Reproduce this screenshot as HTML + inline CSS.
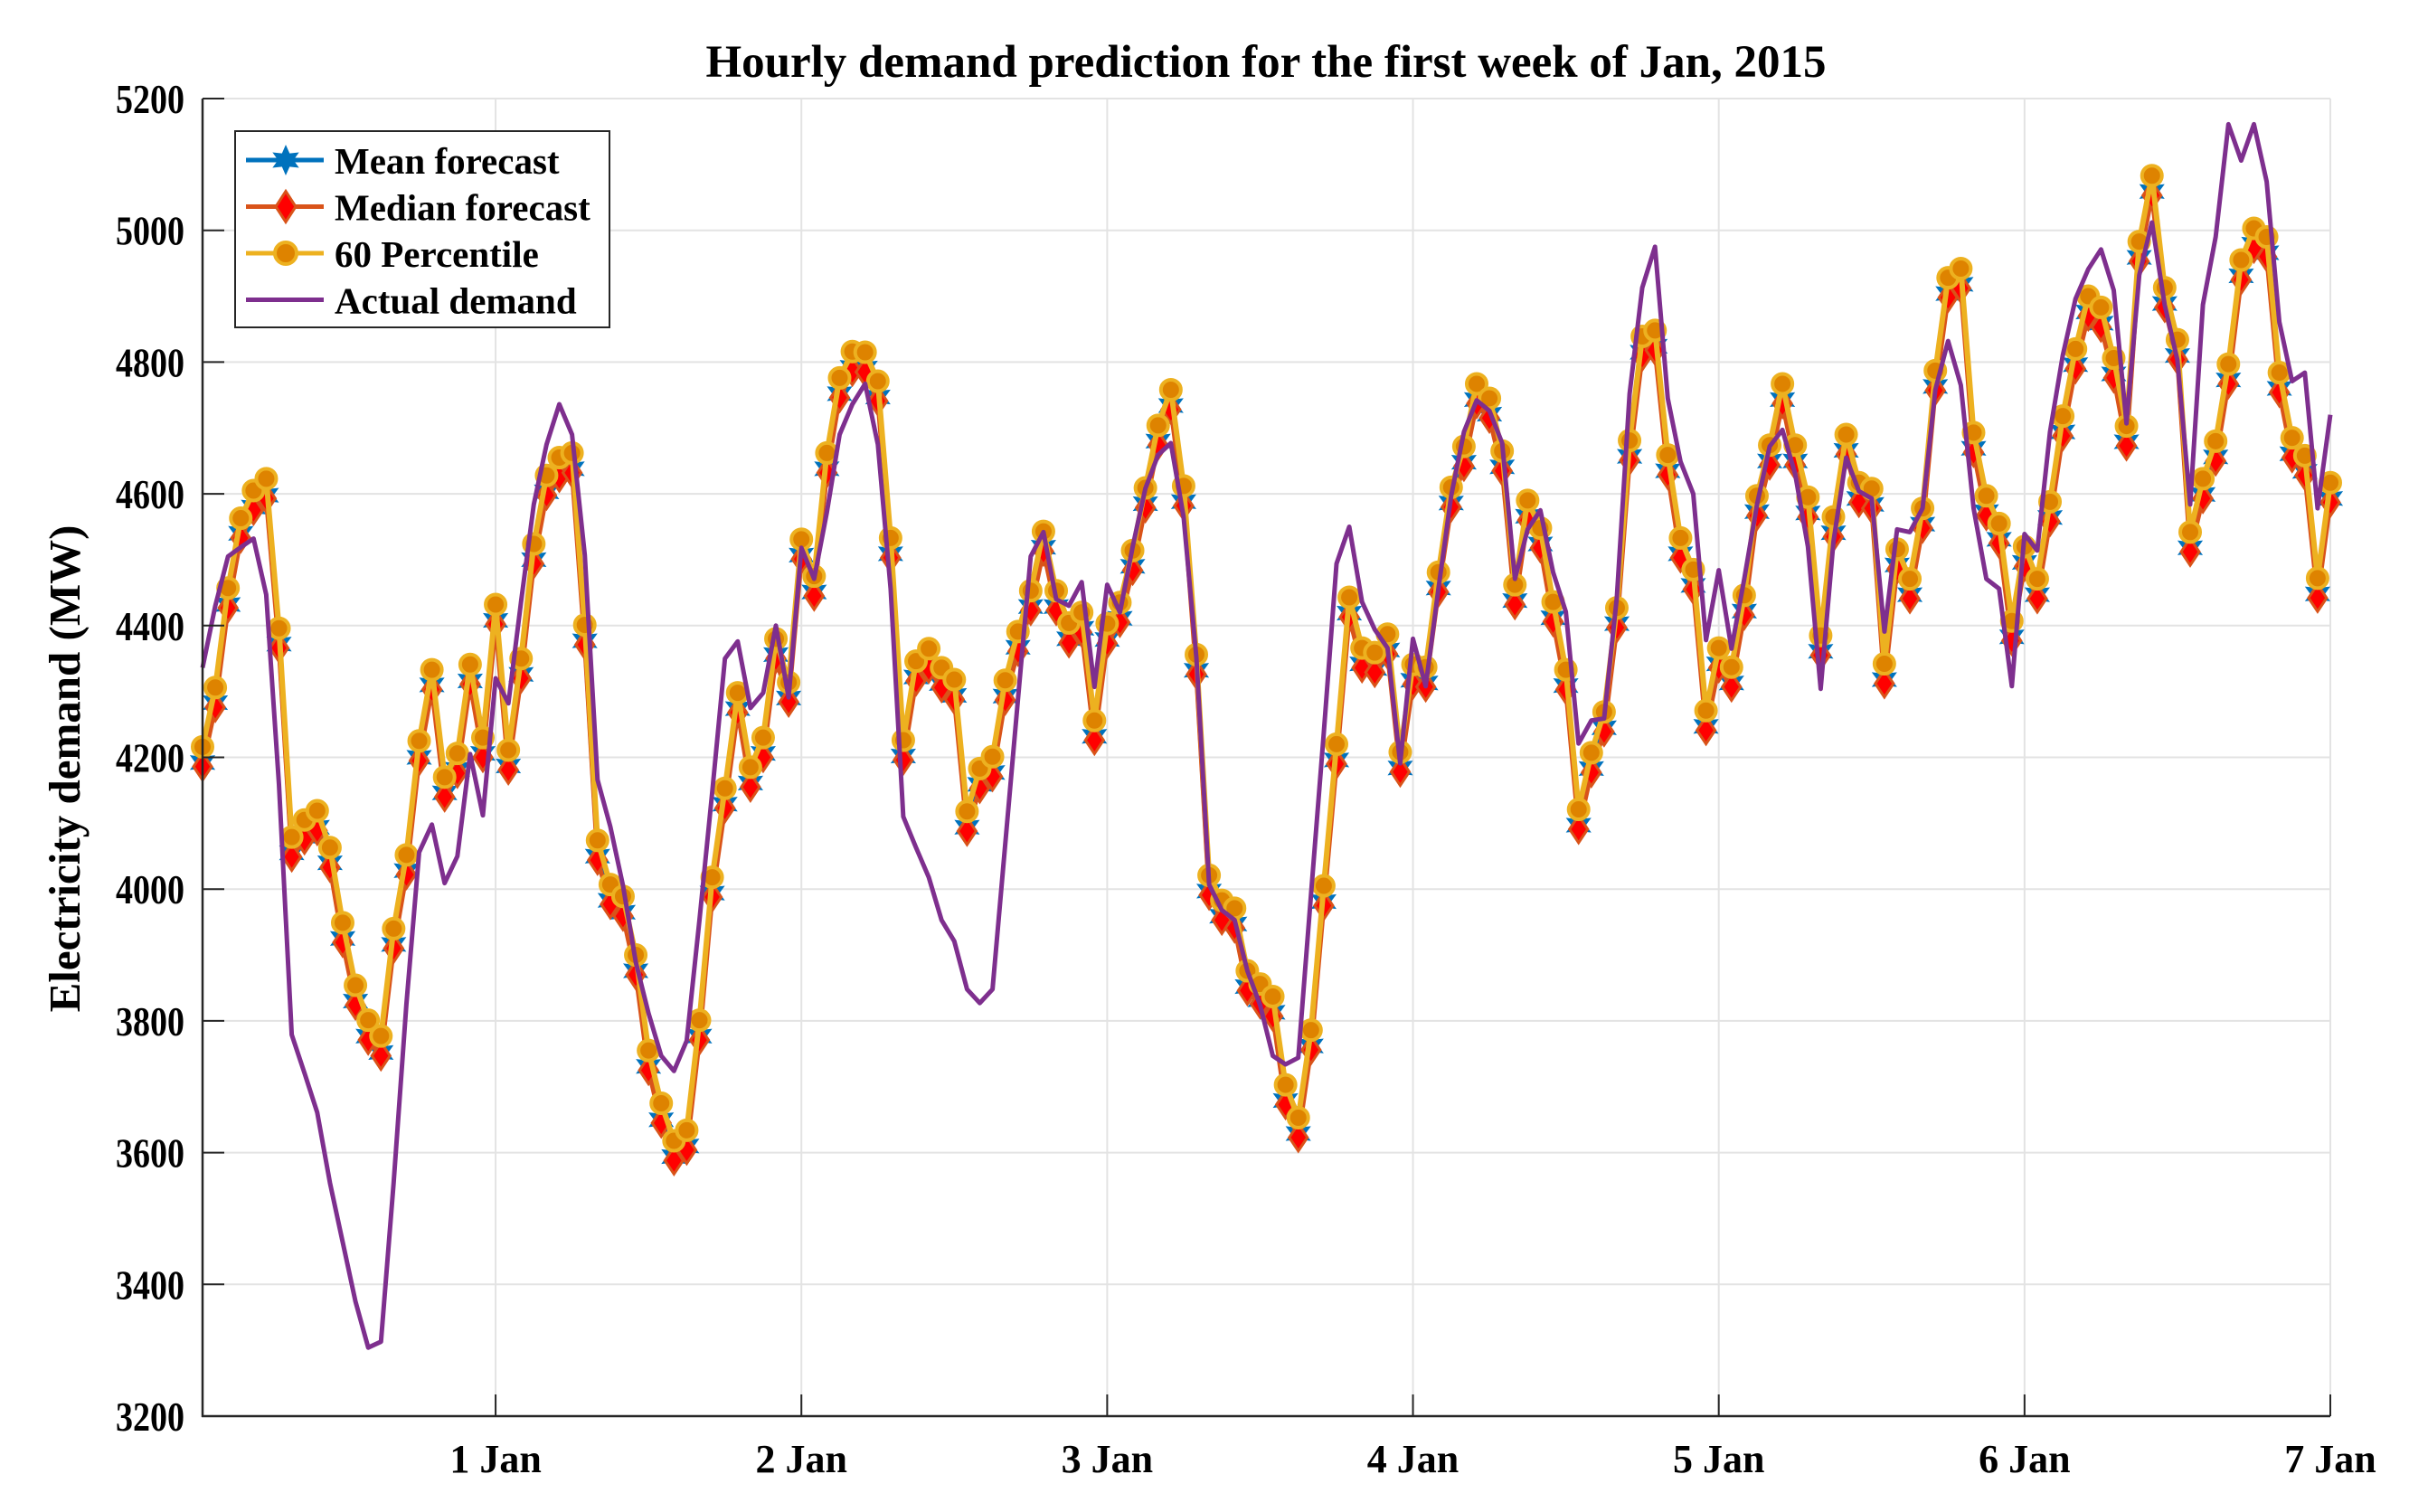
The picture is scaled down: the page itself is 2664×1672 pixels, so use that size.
<!DOCTYPE html>
<html><head><meta charset="utf-8"><style>
html,body{margin:0;padding:0;background:#fff}
svg{display:block}
text{font-family:"Liberation Serif",serif;font-weight:bold;fill:#000}
</style></head><body>
<svg id="chart" width="2664" height="1672" viewBox="0 0 2664 1672" xmlns="http://www.w3.org/2000/svg">
<rect width="2664" height="1672" fill="#fff"/>
<text x="1400" y="85" font-size="51" text-anchor="middle">Hourly demand prediction for the first week of Jan, 2015</text>
<text transform="translate(88,850) rotate(-90)" font-size="49" text-anchor="middle">Electricity demand (MW)</text>
<g id="grid"></g>
<g id="series"></g>
<g id="axes"></g>
<g id="legend"></g>
</svg>
<script>
const yTicks = [3200,3400,3600,3800,4000,4200,4400,4600,4800,5000,5200];
const xTickHours = [24,48,72,96,120,144,168];
const xTickLabels = ["1 Jan","2 Jan","3 Jan","4 Jan","5 Jan","6 Jan","7 Jan"];
const p60 = [4216,4306,4457,4563,4605,4623,4396,4079,4105,4119,4063,3949,3854,3801,3777,3940,4052,4225,4333,4170,4206,4341,4230,4432,
4211,4350,4524,4628,4655,4662,4401,4074,4007,3989,3900,3755,3675,3618,3634,3801,4018,4153,4298,4185,4230,4380,4314,4531,
4475,4662,4776,4816,4815,4771,4533,4226,4346,4365,4336,4318,4118,4183,4201,4317,4391,4453,4543,4453,4404,4420,4256,4403,
4435,4514,4609,4704,4758,4612,4356,4021,3983,3971,3876,3856,3837,3703,3653,3786,4005,4220,4443,4366,4359,4387,4208,4341,
4337,4481,4610,4672,4767,4745,4665,4462,4590,4548,4436,4333,4121,4207,4269,4427,4681,4839,4848,4659,4533,4485,4271,4366,
4337,4446,4597,4674,4767,4674,4595,4385,4565,4690,4617,4608,4342,4516,4471,4578,4787,4928,4942,4693,4597,4555,4407,4520,
4471,4588,4718,4820,4900,4883,4806,4703,4983,5083,4913,4834,4542,4623,4680,4797,4955,5003,4990,4784,4685,4658,4472,4617];
const median = [4186,4276,4427,4533,4575,4593,4366,4049,4075,4089,4033,3919,3824,3771,3747,3910,4022,4195,4303,4140,4176,4311,4200,4402,
4181,4320,4494,4598,4625,4632,4371,4044,3977,3959,3870,3725,3645,3588,3604,3771,3988,4123,4268,4155,4200,4350,4284,4501,
4445,4632,4746,4786,4785,4741,4503,4196,4316,4335,4306,4288,4088,4153,4171,4287,4361,4423,4513,4423,4374,4390,4226,4373,
4405,4484,4579,4674,4728,4582,4326,3991,3953,3941,3846,3826,3807,3673,3623,3756,3975,4190,4413,4336,4329,4357,4178,4311,
4307,4451,4580,4642,4737,4715,4635,4432,4560,4518,4406,4303,4091,4177,4239,4397,4651,4809,4818,4629,4503,4455,4241,4336,
4307,4416,4567,4644,4737,4644,4565,4355,4535,4660,4587,4578,4312,4486,4441,4548,4757,4898,4912,4663,4567,4525,4377,4490,
4441,4558,4688,4790,4870,4853,4776,4673,4953,5053,4883,4804,4512,4593,4650,4767,4925,4973,4960,4754,4655,4628,4442,4587];
const mean = [4192,4283,4432,4540,4580,4598,4372,4055,4080,4094,4040,3925,3830,3777,3752,3916,4028,4200,4310,4146,4182,4316,4206,4408,
4187,4326,4500,4603,4631,4638,4377,4050,3983,3965,3876,3731,3650,3594,3610,3777,3994,4129,4274,4161,4206,4356,4290,4507,
4451,4638,4752,4792,4791,4747,4509,4202,4322,4341,4312,4294,4094,4159,4177,4293,4367,4429,4519,4429,4380,4396,4232,4379,
4411,4490,4585,4680,4734,4588,4332,3997,3959,3947,3852,3832,3813,3679,3629,3762,3981,4196,4419,4342,4335,4363,4184,4317,
4313,4457,4586,4648,4743,4721,4641,4438,4566,4524,4412,4309,4097,4183,4245,4403,4657,4815,4824,4635,4509,4461,4247,4342,
4313,4422,4573,4650,4743,4650,4571,4361,4541,4666,4593,4584,4318,4492,4447,4554,4763,4904,4918,4669,4573,4531,4383,4496,
4447,4564,4694,4796,4876,4859,4782,4679,4959,5059,4889,4810,4518,4599,4656,4773,4931,4979,4966,4760,4661,4634,4448,4593];
const actual = [4336,4430,4505,4519,4532,4447,4159,3779,3721,3661,3554,3464,3374,3304,3313,3554,3825,4056,4098,4009,4050,4205,4112,4320,
4282,4436,4584,4675,4736,4690,4507,4166,4095,4005,3889,3812,3747,3724,3770,3953,4147,4350,4376,4275,4298,4400,4291,4518,
4471,4572,4690,4736,4767,4675,4456,4110,4063,4018,3953,3921,3848,3827,3848,4069,4288,4505,4542,4440,4430,4466,4307,4462,
4420,4520,4608,4659,4677,4565,4352,4007,3968,3953,3876,3824,3747,3734,3744,3992,4237,4494,4550,4436,4394,4366,4191,4380,
4308,4456,4597,4694,4742,4726,4677,4471,4546,4575,4481,4421,4221,4256,4259,4443,4752,4913,4975,4745,4649,4600,4378,4484,
4365,4471,4584,4672,4697,4630,4520,4304,4527,4655,4604,4593,4391,4546,4542,4578,4758,4832,4765,4578,4471,4456,4308,4539,
4514,4694,4810,4896,4941,4971,4909,4707,4932,5012,4887,4803,4584,4887,4990,5161,5106,5161,5074,4861,4771,4784,4578,4720];

const L=224,R=2577,T=109,B=1566;
const xMin=1,xMax=168,yMin=3200,yMax=5200;
function xs(h){return L+(h-xMin)/(xMax-xMin)*(R-L);}
function ys(v){return B-(v-yMin)/(yMax-yMin)*(B-T);}
const NS="http://www.w3.org/2000/svg";
function mk(tag,attrs,parent){const e=document.createElementNS(NS,tag);for(const k in attrs)e.setAttribute(k,attrs[k]);parent.appendChild(e);return e;}
const grid=document.getElementById('grid'),axes=document.getElementById('axes'),series=document.getElementById('series'),legend=document.getElementById('legend');

yTicks.forEach(v=>{
  const g=mk('line',{x1:L,x2:R,y1:ys(v),y2:ys(v),stroke:'#e3e3e3','stroke-width':2},grid);
  
  
  const tk=mk('line',{x1:L,x2:L+24,y1:ys(v),y2:ys(v),stroke:'#262626','stroke-width':2},axes);
  
  
  const t=mk('text',{x:0,y:0,'font-size':38,'text-anchor':'end',fill:'#262626',transform:'translate('+(L-20)+','+(ys(v)+16)+') scale(1,1.2)'},axes);
  t.textContent=v;
  
  
});
xTickHours.forEach((h,i)=>{
  const g=mk('line',{x1:xs(h),x2:xs(h),y1:T,y2:B,stroke:'#e3e3e3','stroke-width':2},grid);
  
  
  const tk=mk('line',{x1:xs(h),x2:xs(h),y1:B,y2:B-24,stroke:'#262626','stroke-width':2},axes);
  
  
  const t=mk('text',{x:xs(h),y:B+62,'font-size':44,'text-anchor':'middle',fill:'#262626'},axes);
  t.textContent=xTickLabels[i];
  
  
});
const ax1=mk('line',{x1:L,x2:L,y1:T,y2:B+1,stroke:'#262626','stroke-width':2.5},axes);


const ax2=mk('line',{x1:L-1,x2:R,y1:B,y2:B,stroke:'#262626','stroke-width':2.5},axes);



function starPath(cx,cy,r){let d='';for(let i=0;i<12;i++){const a=-Math.PI/2+i*Math.PI/6;const rr=i%2?r*0.5:r;d+=(i?'L':'M')+(cx+rr*Math.cos(a)).toFixed(1)+','+(cy+rr*Math.sin(a)).toFixed(1);}return d+'Z';}
function diamondPath(cx,cy,w,h){return 'M'+cx+','+(cy-h)+'L'+(cx+w)+','+cy+'L'+cx+','+(cy+h)+'L'+(cx-w)+','+cy+'Z';}
function linePts(arr){return arr.map((v,i)=>xs(i+1).toFixed(1)+','+ys(v).toFixed(1)).join(' ');}

const gm=mk('g',{},series);


mk('polyline',{points:linePts(mean),fill:'none',stroke:'#0072BD','stroke-width':5,'stroke-linejoin':'round'},gm);
mean.forEach((v,i)=>{const p=mk('path',{d:starPath(xs(i+1),ys(v),15),fill:'#0072BD',stroke:'#0072BD','stroke-width':1},gm);

});
const gd=mk('g',{},series);


mk('polyline',{points:linePts(median),fill:'none',stroke:'#D95319','stroke-width':5,'stroke-linejoin':'round'},gd);
median.forEach((v,i)=>{const p=mk('path',{d:diamondPath(xs(i+1),ys(v),10,15),fill:'#FF0000',stroke:'#D95319','stroke-width':3},gd);

});
const gp=mk('g',{},series);


mk('polyline',{points:linePts(p60),fill:'none',stroke:'#EDB120','stroke-width':6,'stroke-linejoin':'round'},gp);
p60.forEach((v,i)=>{const c=mk('circle',{cx:xs(i+1),cy:ys(v),r:11,fill:'#DE8300',stroke:'#EDB120','stroke-width':4},gp);

});
const pa=mk('polyline',{points:linePts(actual),fill:'none',stroke:'#7E2F8E','stroke-width':5,'stroke-linejoin':'round'},series);



const lb=mk('rect',{x:260,y:145,width:414,height:217,fill:'#fff',stroke:'#262626','stroke-width':2},legend);


const entries=[['Mean forecast','#0072BD','star'],['Median forecast','#D95319','diamond'],['60 Percentile','#EDB120','circle'],['Actual demand','#7E2F8E','none']];
entries.forEach((e,i)=>{
  const cy=177+i*51.5;
  const g=mk('g',{},legend);
  
  
  mk('line',{x1:272,x2:358,y1:cy,y2:cy,stroke:e[1],'stroke-width':5},g);
  if(e[2]==='star')mk('path',{d:starPath(316,cy,17),fill:'#0072BD'},g);
  if(e[2]==='diamond')mk('path',{d:diamondPath(316,cy,11,17),fill:'#FF0000',stroke:'#D95319','stroke-width':3},g);
  if(e[2]==='circle')mk('circle',{cx:316,cy:cy,r:12,fill:'#DE8300',stroke:'#EDB120','stroke-width':4},g);
  const t=mk('text',{x:370,y:cy+15,'font-size':41},g);
  t.textContent=e[0];
});
</script>
</body></html>
